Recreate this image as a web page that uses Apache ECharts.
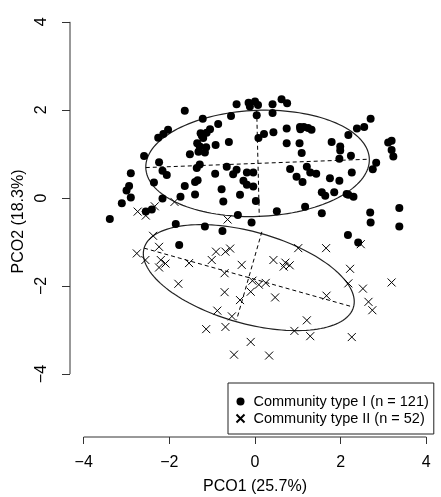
<!DOCTYPE html>
<html>
<head>
<meta charset="utf-8">
<script src="https://cdn.jsdelivr.net/npm/echarts@6/dist/echarts.min.js"></script>
<style>
  html, body { margin: 0; padding: 0; background: #fff; }
  #chart { width: 441px; height: 497px; }
</style>
</head>
<body>
<div id="chart"></div>
<script>
// tick values of both axes
const xTicks = [-4, -2, 0, 2, 4];
const yTicks = [-4, -2, 0, 2, 4];

// PCO1 / PCO2 scores, community type I (n = 121)
const typeI = [
  [-1.64, 1.98], [-0.43, 2.13], [-0.15, 2.16], [0.00, 2.19], [0.07, 2.11],
  [0.41, 2.13], [0.62, 2.24], [0.75, 2.15], [0.41, 1.93], [0.04, 1.88],
  [-0.56, 1.86], [-1.22, 1.80], [-0.86, 1.68], [-1.05, 1.56], [-1.13, 1.48],
  [-1.27, 1.47], [-1.21, 1.36], [-1.35, 1.24], [-1.29, 1.17], [-1.14, 1.15],
  [-1.32, 1.05], [-1.17, 1.03], [-1.52, 0.99], [-0.92, 1.20], [-0.61, 1.27],
  [-2.03, 1.55], [-2.14, 1.45], [-2.26, 1.37], [-2.59, 0.95], [-2.24, 0.81],
  [-2.16, 0.62], [-2.06, 0.52], [-2.90, 0.56], [-2.94, 0.27], [-3.00, 0.17],
  [-2.90, 0.01], [-3.11, -0.12], [-2.36, 0.35], [-2.16, -0.01], [-2.55, -0.31],
  [-2.41, -0.26], [-3.39, -0.48], [-1.85, -0.59], [-1.74, 0.03], [-1.64, 0.27],
  [-1.40, 0.36], [-1.40, 0.08], [-1.29, 0.76], [-1.36, 0.68], [-0.66, 0.71],
  [-0.43, 0.64], [-0.51, 0.54], [-0.93, 0.55], [-0.19, 0.58], [-0.04, 0.58],
  [-0.27, 0.39], [-0.19, 0.30], [-0.04, 0.26], [-0.78, 0.20], [-0.35, 0.07],
  [-0.74, -0.08], [0.02, -0.07], [-0.40, -0.39], [-0.08, -0.56], [-1.17, -0.65],
  [-0.76, -0.75], [-1.77, -1.07], [0.21, 1.45], [0.43, 1.49], [0.08, 1.36],
  [0.74, 1.58], [1.05, 1.61], [1.14, 1.61], [1.24, 1.59], [1.32, 1.55],
  [0.74, 1.24], [1.04, 1.24], [1.09, 1.02], [1.79, 1.27], [1.99, 1.17],
  [2.24, 0.96], [1.97, 0.89], [2.18, 1.43], [2.38, 1.58], [2.55, 1.61],
  [2.70, 1.80], [2.83, 0.80], [2.75, 0.65], [2.26, 0.58], [0.82, 0.66],
  [0.97, 0.48], [1.21, 0.71], [1.29, 0.58], [1.43, 0.55], [1.11, 0.36],
  [1.75, 0.45], [1.97, 0.39], [1.56, 0.13], [1.64, 0.05], [1.85, 0.13],
  [2.18, 0.07], [2.30, 0.03], [1.17, -0.20], [0.51, -0.30], [1.56, -0.35],
  [2.69, -0.33], [3.11, 1.26], [3.19, 1.30], [3.19, 1.09], [3.23, 0.94],
  [3.37, -0.23], [3.37, -0.65], [2.70, -0.56], [2.17, -0.84], [2.41, -1.01],
  [1.99, 1.08], [-1.34, 0.40], [-1.24, 1.41], [1.06, 1.56], [2.14, 0.09],
  [-0.12, 2.08]
];

// PCO1 / PCO2 scores, community type II (n = 52)
const typeII = [
  [-2.74, -0.31], [-2.55, -0.40], [-2.34, -0.19], [-1.88, -0.09], [-0.64, -0.49],
  [-2.38, -0.86], [-2.24, -1.11], [-2.76, -1.26], [-2.56, -1.41], [-2.20, -1.41],
  [-2.09, -1.49], [-2.24, -1.58], [-1.54, -1.48], [-1.79, -1.95], [-1.01, -1.41],
  [-0.91, -1.22], [-0.69, -1.22], [-0.58, -1.15], [-0.31, -1.52], [-0.71, -1.71],
  [-0.71, -2.14], [-0.35, -2.32], [-0.06, -1.88], [0.09, -1.97], [0.25, -1.93],
  [-0.10, -2.13], [0.47, -2.26], [0.43, -1.41], [0.71, -1.47], [0.81, -1.53],
  [0.67, -1.56], [1.01, -1.14], [1.66, -1.14], [2.22, -1.61], [2.18, -1.94],
  [1.67, -2.22], [2.52, -2.06], [2.65, -2.36], [2.74, -2.55], [3.19, -1.92],
  [-0.88, -2.56], [-0.54, -2.69], [-0.69, -2.93], [-1.14, -2.98], [1.21, -2.78],
  [0.92, -3.02], [1.29, -3.14], [2.26, -3.16], [-0.10, -3.27], [-0.49, -3.56],
  [0.33, -3.58], [2.47, -1.05]
];

// ends of the principal axes of each ellipse: major pair, then minor pair
const ellipseAxesI = [[-2.55, 0.69], [2.67, 0.88], [0.04, 1.98], [0.10, -0.43]];
const ellipseAxesII = [[-2.59, -1.14], [2.30, -2.48], [0.16, -0.77], [-0.43, -2.77]];

const ellipses = [ellipseAxesI, ellipseAxesII];
const xMin = -4.32, xMax = 4.32, yMin = -5.43, yMax = 4.36;
const ink = '#000';
const axisInk = '#333';
const font = '"Liberation Sans", Arial, Helvetica, sans-serif';

const fmt = v => (v < 0 ? '\u2212' + Math.abs(v) : String(v));

function renderEllipse(params, api) {
  const [p1, p2, q1, q2] = ellipses[params.dataIndex];
  const c = [(p1[0] + p2[0]) / 2, (p1[1] + p2[1]) / 2];
  const a = [(p2[0] - p1[0]) / 2, (p2[1] - p1[1]) / 2];
  const b = [(q1[0] - q2[0]) / 2, (q1[1] - q2[1]) / 2];
  const pts = [];
  for (let i = 0; i <= 144; i++) {
    const t = i / 144 * Math.PI * 2;
    pts.push(api.coord([
      c[0] + Math.cos(t) * a[0] + Math.sin(t) * b[0],
      c[1] + Math.cos(t) * a[1] + Math.sin(t) * b[1]
    ]));
  }
  const dash = { stroke: ink, lineWidth: 1, lineDash: [4, 3] };
  const s1 = api.coord(p1), s2 = api.coord(p2), s3 = api.coord(q1), s4 = api.coord(q2);
  return {
    type: 'group',
    children: [
      { type: 'polyline', shape: { points: pts }, style: { stroke: '#222', lineWidth: 1.2, fill: null } },
      { type: 'line', shape: { x1: s1[0], y1: s1[1], x2: s2[0], y2: s2[1] }, style: dash },
      { type: 'line', shape: { x1: s3[0], y1: s3[1], x2: s4[0], y2: s4[1] }, style: dash }
    ]
  };
}

const chart = echarts.init(document.getElementById('chart'), null, { renderer: 'canvas' });
chart.setOption({
  animation: false,
  backgroundColor: '#fff',
  textStyle: { fontFamily: font },
  grid: { left: 70, right: 1, top: 6, bottom: 60, outerBoundsMode: 'none' },
  xAxis: {
    type: 'value', min: xMin, max: xMax,
    name: 'PCO1 (25.7%)', nameLocation: 'middle', nameGap: 42,
    nameTextStyle: { fontSize: 16, color: ink, fontFamily: font },
    axisLine: { show: false, onZero: false },
    splitLine: { show: false },
    axisTick: { show: true, customValues: xTicks, length: 7, lineStyle: { color: axisInk, width: 1 } },
    axisLabel: { customValues: xTicks, formatter: fmt, fontSize: 16, color: ink, margin: 18, fontFamily: font }
  },
  yAxis: {
    type: 'value', min: yMin, max: yMax,
    name: 'PCO2 (18.3%)', nameLocation: 'middle', nameGap: 40,
    nameTextStyle: { fontSize: 16, color: ink, fontFamily: font },
    axisLine: { show: false, onZero: false },
    splitLine: { show: false },
    axisTick: { show: true, customValues: yTicks, length: 8, lineStyle: { color: axisInk, width: 1 } },
    axisLabel: { customValues: yTicks, formatter: fmt, rotate: 90, fontSize: 16, color: ink, margin: 20, fontFamily: font }
  },
  legend: {
    orient: 'vertical',
    left: 228, top: 383,
    data: ['Community type I (n = 121)', 'Community type II (n = 52)'],
    borderColor: '#222', borderWidth: 1,
    padding: [10, 5, 7, 6],
    itemWidth: 16, itemHeight: 8, itemGap: 0,
    textStyle: { fontSize: 14.5, color: ink, lineHeight: 17, fontFamily: font }
  },
  series: [
    {
      name: 'x axis line', type: 'line', silent: true, clip: false, symbol: 'none',
      data: [[xTicks[0], yMin], [xTicks[xTicks.length - 1], yMin]],
      lineStyle: { color: axisInk, width: 1 }
    },
    {
      name: 'y axis line', type: 'line', silent: true, clip: false, symbol: 'none',
      data: [[xMin, yTicks[0]], [xMin, yTicks[yTicks.length - 1]]],
      lineStyle: { color: axisInk, width: 1 }
    },
    {
      name: 'Community type I (n = 121)', type: 'scatter',
      symbol: 'circle', symbolSize: 8,
      itemStyle: { color: ink, opacity: 1 },
      data: typeI
    },
    {
      name: 'Community type II (n = 52)', type: 'scatter',
      symbol: 'path://M0,0L10,10M10,0L0,10', symbolSize: 8,
      itemStyle: { color: 'none', borderColor: ink, borderWidth: 1, opacity: 1 },
      data: typeII
    },
    {
      name: 'ellipses', type: 'custom', silent: true, clip: false,
      renderItem: renderEllipse,
      data: ellipses.map(e => [(e[0][0] + e[1][0]) / 2, (e[0][1] + e[1][1]) / 2])
    }
  ]
});
</script>
</body>
</html>
